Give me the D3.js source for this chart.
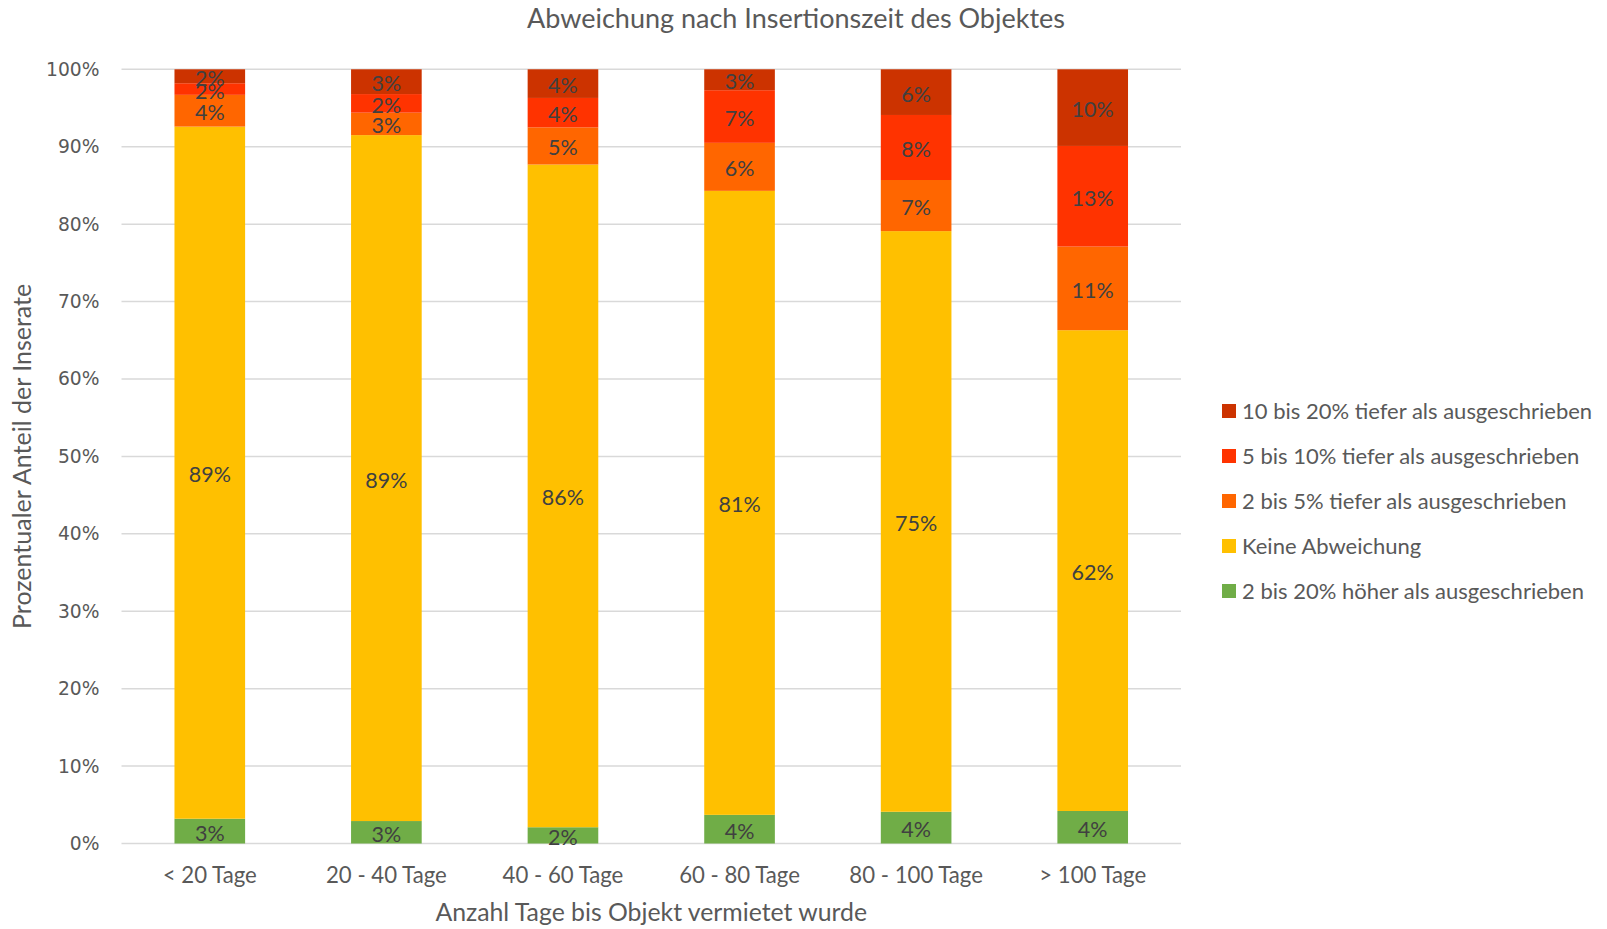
<!DOCTYPE html>
<html>
<head>
<meta charset="utf-8">
<script src="https://cdn.jsdelivr.net/npm/d3@7"></script>
<style>
  html, body { margin: 0; padding: 0; background: #fff; }
  svg { display: block; }
</style>
</head>
<body>
<svg id="chart" width="1607" height="929"></svg>
<script>
// Categories (days until the object was rented)
const categories = ["< 20 Tage", "20 - 40 Tage", "40 - 60 Tage", "60 - 80 Tage", "80 - 100 Tage", "> 100 Tage"];

// Series, stacked bottom to top (share of listings in %)
const seriesNames = [
  "2 bis 20% höher als ausgeschrieben",
  "Keine Abweichung",
  "2 bis 5% tiefer als ausgeschrieben",
  "5 bis 10% tiefer als ausgeschrieben",
  "10 bis 20% tiefer als ausgeschrieben"
];
const hoeher      = [3.2, 2.9, 2.1, 3.7, 4.1, 4.2];
const keine       = [89.4, 88.6, 85.6, 80.6, 75.0, 62.1];
const tiefer2bis5 = [4.1, 2.9, 4.8, 6.2, 6.6, 10.8];
const tiefer5bis10 = [1.5, 2.4, 3.8, 6.8, 8.4, 13.0];
const tiefer10bis20 = [1.8, 3.2, 3.7, 2.7, 5.9, 9.9];

const seriesColors = ["#70AD47", "#FFC000", "#FF6600", "#FF3300", "#CC3300"];

// Axis tick values
const yTicks = [0, 10, 20, 30, 40, 50, 60, 70, 80, 90, 100];

const title = "Abweichung nach Insertionszeit des Objektes";
const xTitle = "Anzahl Tage bis Objekt vermietet wurde";
const yTitle = "Prozentualer Anteil der Inserate";

const seriesValues = [hoeher, keine, tiefer2bis5, tiefer5bis10, tiefer10bis20];
const rows = categories.map((c, i) => {
  const r = { cat: c };
  seriesNames.forEach((s, k) => { r[s] = seriesValues[k][i]; });
  return r;
});

const svg = d3.select("#chart");
const margin = { left: 121.5, right: 1181, top: 69.3, bottom: 843.5 };
const labelFont = "Lato, 'Open Sans', sans-serif";

const x = d3.scaleBand().domain(categories).range([margin.left, margin.right]).paddingInner(0.6).paddingOuter(0.3);
const y = d3.scaleLinear().domain([0, 100]).range([margin.bottom, margin.top]);

// Gridlines
svg.append("g").selectAll("line").data(yTicks).join("line")
  .attr("x1", margin.left).attr("x2", margin.right)
  .attr("y1", d => y(d)).attr("y2", d => y(d))
  .attr("stroke", "#d9d9d9").attr("stroke-width", 1.5);

// Y axis tick labels
const yAxis = d3.axisLeft(y).tickValues(yTicks).tickFormat(d => d + "%").tickSize(0).tickPadding(22);
const gy = svg.append("g").attr("transform", `translate(${margin.left},0)`).call(yAxis);
gy.select(".domain").remove();
gy.selectAll("text").attr("font-family", "'DejaVu Sans', Verdana, sans-serif").attr("font-size", 18.7).attr("fill", "#595959");

// X axis category labels
const xAxis = d3.axisBottom(x).tickSize(0).tickPadding(24);
const gx = svg.append("g").attr("transform", `translate(0,${margin.bottom})`).call(xAxis);
gx.select(".domain").remove();
gx.selectAll("text").attr("font-family", labelFont).attr("font-size", 22.2).attr("fill", "#595959");

// Stacked bars
const stack = d3.stack().keys(seriesNames);
const stacked = stack(rows);

const layers = svg.append("g").selectAll("g").data(stacked).join("g")
  .attr("fill", (d, i) => seriesColors[i]);

layers.selectAll("rect").data(d => d).join("rect")
  .attr("x", d => x(d.data.cat))
  .attr("width", x.bandwidth())
  .attr("y", d => y(d[1]))
  .attr("height", d => y(d[0]) - y(d[1]));

// Data labels
const labels = svg.append("g");
stacked.forEach(layer => {
  labels.selectAll(null).data(layer).join("text")
    .attr("x", d => x(d.data.cat) + x.bandwidth() / 2)
    .attr("y", d => y((d[0] + d[1]) / 2))
    .attr("dy", "0.44em")
    .attr("text-anchor", "middle")
    .attr("font-family", labelFont)
    .attr("font-size", 21.5)
    .attr("fill", "#404040")
    .text(d => Math.round(d[1] - d[0]) + "%");
});

// Title
svg.append("text").attr("x", 796).attr("y", 28).attr("text-anchor", "middle")
  .attr("font-family", labelFont).attr("font-size", 27).attr("fill", "#595959").text(title);

// Axis titles
svg.append("text").attr("x", (margin.left + margin.right) / 2).attr("y", 921).attr("text-anchor", "middle")
  .attr("font-family", labelFont).attr("font-size", 24.8).attr("fill", "#595959").text(xTitle);

svg.append("text").attr("transform", `translate(31,${(margin.top + margin.bottom) / 2}) rotate(-90)`)
  .attr("text-anchor", "middle")
  .attr("font-family", labelFont).attr("font-size", 25).attr("fill", "#595959").text(yTitle);

// Legend (top series first)
const legendItems = seriesNames.map((s, i) => ({ name: s, color: seriesColors[i] })).reverse();
const legend = svg.append("g").attr("transform", "translate(1222,411)");
const li = legend.selectAll("g").data(legendItems).join("g")
  .attr("transform", (d, i) => `translate(0,${i * 45})`);
li.append("rect").attr("x", 0).attr("y", -7).attr("width", 14).attr("height", 14).attr("fill", d => d.color);
li.append("text").attr("x", 20).attr("dy", "0.35em")
  .attr("font-family", labelFont).attr("font-size", 22).attr("fill", "#595959").text(d => d.name);
</script>
</body>
</html>
